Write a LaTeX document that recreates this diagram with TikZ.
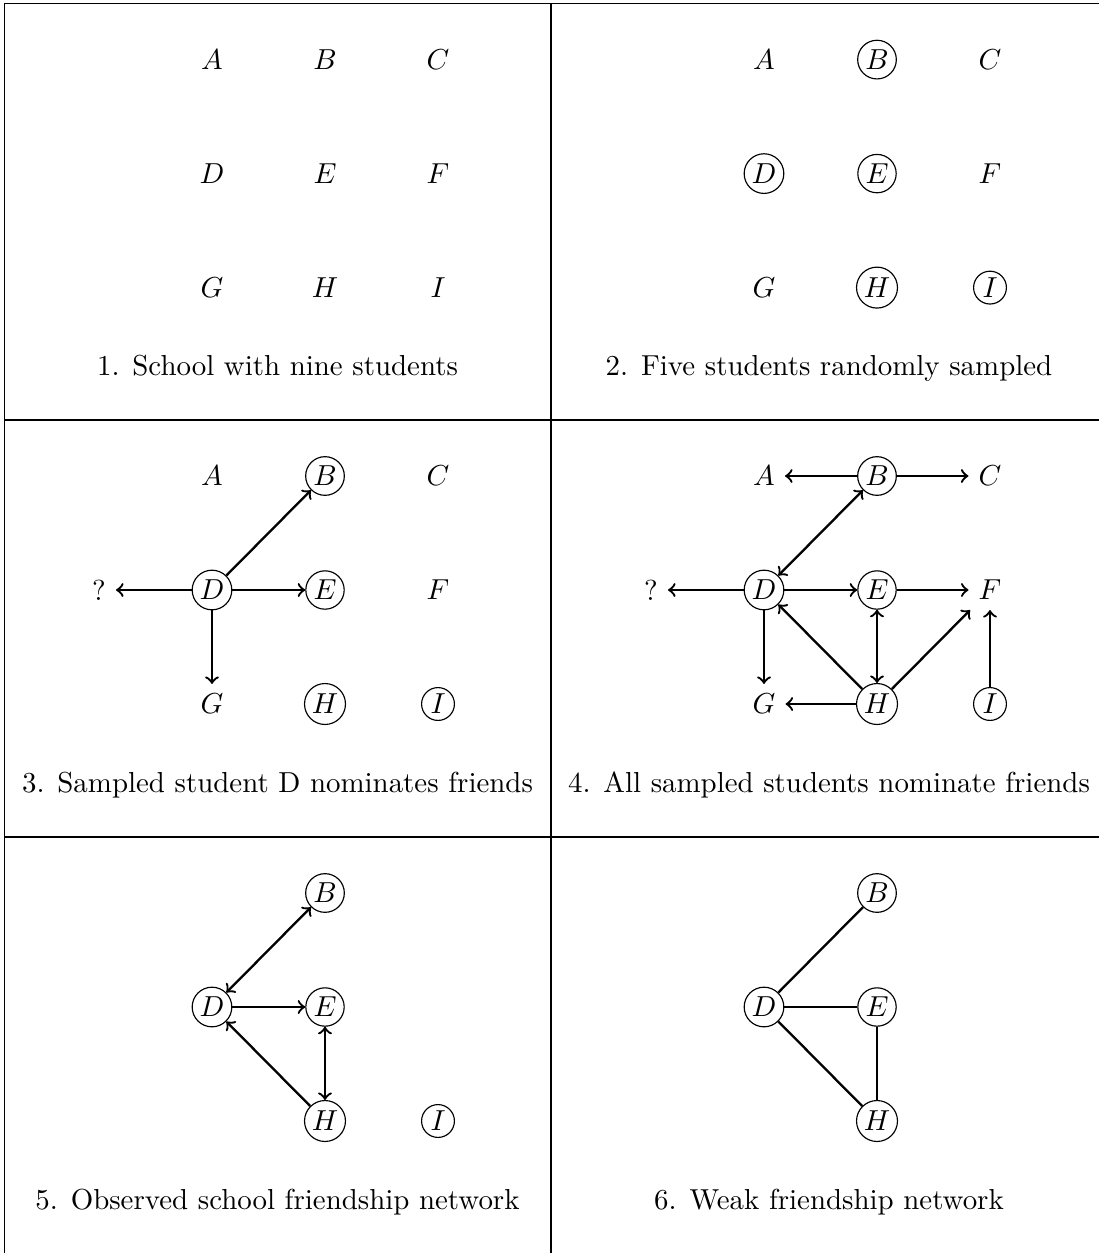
\documentclass[tikz,border=0pt]{standalone}
\begin{document}
\begin{tikzpicture}[x=0.346pt,y=-0.346pt,
    stu/.style={circle,draw,line width=0.4pt,inner sep=1pt},
    nom/.style={->,thick},
    tie/.style={thick},
    capt/.style={anchor=base},
    rule/.style={line width=0.4pt}]
    \useasboundingbox (0,0) rectangle (1099,1253);
    \draw[rule] (4,3.6) -- (1099,3.6);
    \draw[rule] (4,420) -- (1099,420);
    \draw[rule] (4,837) -- (1099,837);
    \draw[rule] (4.3,3.6) -- (4.3,1253);
    \draw[rule] (551,3.6) -- (551,1253);

    \node (A1) at (212,59.6) {$A$};
    \node (B1) at (325,59.6) {$B$};
    \node (C1) at (438,59.6) {$C$};
    \node (D1) at (212,173.6) {$D$};
    \node (E1) at (325,173.6) {$E$};
    \node (F1) at (438,173.6) {$F$};
    \node (G1) at (212,287.6) {$G$};
    \node (H1) at (325,287.6) {$H$};
    \node (I1) at (438,287.6) {$I$};
    \node[capt] (cap1) at (277.5,375.6) {1. School with nine students};

    \node (A2) at (764,59.6) {$A$};
    \node[stu] (B2) at (877,59.6) {$B$};
    \node (C2) at (990,59.6) {$C$};
    \node[stu] (D2) at (764,173.6) {$D$};
    \node[stu] (E2) at (877,173.6) {$E$};
    \node (F2) at (990,173.6) {$F$};
    \node (G2) at (764,287.6) {$G$};
    \node[stu] (H2) at (877,287.6) {$H$};
    \node[stu] (I2) at (990,287.6) {$I$};
    \node[capt] (cap2) at (829,375.6) {2. Five students randomly sampled};

    \node (A3) at (212,476) {$A$};
    \node[stu] (B3) at (325,476) {$B$};
    \node (C3) at (438,476) {$C$};
    \node (Q3) at (99,590) {?};
    \node[stu] (D3) at (212,590) {$D$};
    \node[stu] (E3) at (325,590) {$E$};
    \node (F3) at (438,590) {$F$};
    \node (G3) at (212,704) {$G$};
    \node[stu] (H3) at (325,704) {$H$};
    \node[stu] (I3) at (438,704) {$I$};
    \draw[nom] (D3) -- (Q3);
    \draw[nom] (D3) -- (B3);
    \draw[nom] (D3) -- (E3);
    \draw[nom] (D3) -- (G3);
    \node[capt] (cap3) at (277.5,792) {3. Sampled student D nominates friends};

    \node (A4) at (764,476) {$A$};
    \node[stu] (B4) at (877,476) {$B$};
    \node (C4) at (990,476) {$C$};
    \node (Q4) at (651,590) {?};
    \node[stu] (D4) at (764,590) {$D$};
    \node[stu] (E4) at (877,590) {$E$};
    \node (F4) at (990,590) {$F$};
    \node (G4) at (764,704) {$G$};
    \node[stu] (H4) at (877,704) {$H$};
    \node[stu] (I4) at (990,704) {$I$};
    \draw[nom] (B4) -- (A4);
    \draw[nom] (B4) -- (C4);
    \draw[nom,<->] (D4) -- (B4);
    \draw[nom] (D4) -- (Q4);
    \draw[nom] (D4) -- (E4);
    \draw[nom] (D4) -- (G4);
    \draw[nom] (E4) -- (F4);
    \draw[nom,<->] (E4) -- (H4);
    \draw[nom] (H4) -- (D4);
    \draw[nom] (H4) -- (F4);
    \draw[nom] (H4) -- (G4);
    \draw[nom] (I4) -- (F4);
    \node[capt] (cap4) at (829,792) {4. All sampled students nominate friends};

    \node[stu] (B5) at (325,893) {$B$};
    \node[stu] (D5) at (212,1007) {$D$};
    \node[stu] (E5) at (325,1007) {$E$};
    \node[stu] (H5) at (325,1121) {$H$};
    \node[stu] (I5) at (438,1121) {$I$};
    \draw[nom,<->] (D5) -- (B5);
    \draw[nom] (D5) -- (E5);
    \draw[nom] (H5) -- (D5);
    \draw[nom,<->] (E5) -- (H5);
    \node[capt] (cap5) at (277.5,1209) {5. Observed school friendship network};

    \node[stu] (B6) at (877,893) {$B$};
    \node[stu] (D6) at (764,1007) {$D$};
    \node[stu] (E6) at (877,1007) {$E$};
    \node[stu] (H6) at (877,1121) {$H$};
    \draw[tie] (B6) -- (D6);
    \draw[tie] (D6) -- (E6);
    \draw[tie] (D6) -- (H6);
    \draw[tie] (E6) -- (H6);
    \node[capt] (cap6) at (829,1209) {6. Weak friendship network};
  \end{tikzpicture}
\end{document}
